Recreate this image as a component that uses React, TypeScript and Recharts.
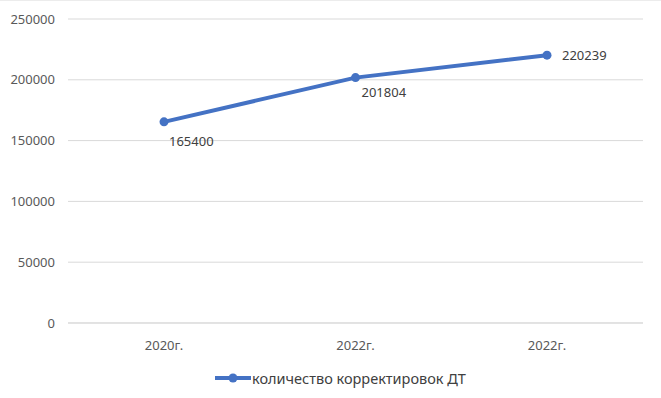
import { LineChart, Line, XAxis, YAxis, CartesianGrid, Legend } from 'recharts';

const categories = ['2020г.', '2022г.', '2022г.'];
const corrections = [165400, 201804, 220239];
const yTicks = [0, 50000, 100000, 150000, 200000, 250000];
const seriesName = 'количество корректировок ДТ';

const data = categories.map((label, i) => ({ i, label, value: corrections[i] }));

const FONT = '"Noto Sans", sans-serif';
const BLUE = '#4472C4';

// label offsets per point, like the Excel original
const labelDx = [5, 6, 15];
const labelDy = [24, 19, 5];

function PointLabel(props: any) {
  const { x, y, value, index } = props;
  return (
    <text x={x + labelDx[index]} y={y + labelDy[index]} fontSize={13} fill="#404040" fontFamily={FONT}>
      {value}
    </text>
  );
}

function LegendContent() {
  return (
    <div style={{ display: 'flex', alignItems: 'center', fontFamily: FONT, fontSize: 14.5, color: '#404040' }}>
      <svg width={37} height={12}>
        <line x1={0} y1={6} x2={36} y2={6} stroke={BLUE} strokeWidth={4} />
        <circle cx={18} cy={6} r={4.5} fill={BLUE} />
      </svg>
      <span>{seriesName}</span>
    </div>
  );
}

export default function App() {
  return (
    <div style={{ position: 'absolute', left: 0, top: 0, width: 661, height: 398, background: '#fff', borderTop: '1px solid #ececec', boxSizing: 'border-box' }}>
      <LineChart width={661} height={397} data={data} margin={{ top: 18, right: 18, bottom: 15, left: 0 }}>
        <CartesianGrid horizontal vertical={false} stroke="#d9d9d9" />
        <XAxis
          dataKey="i"
          type="category"
          tickFormatter={(i: number) => categories[i]}
          padding={{ left: 96, right: 96 }}
          axisLine={{ stroke: '#d9d9d9' }}
          tickLine={false}
          tickSize={0}
          tickMargin={18}
          height={40}
          tick={{ fontSize: 13, fill: '#595959', fontFamily: FONT }}
        />
        <YAxis
          domain={[0, 250000]}
          ticks={yTicks}
          width={68}
          axisLine={false}
          tickLine={false}
          tickSize={0}
          tickMargin={13}
          tick={{ fontSize: 13, fill: '#595959', fontFamily: FONT }}
        />
        <Legend content={<LegendContent />} wrapperStyle={{ left: 215, top: 367, width: 'auto' }} />
        <Line
          type="linear"
          dataKey="value"
          name={seriesName}
          stroke={BLUE}
          strokeWidth={4}
          dot={{ r: 4.5, fill: BLUE, stroke: BLUE, strokeWidth: 0 }}
          label={<PointLabel />}
          isAnimationActive={false}
        />
      </LineChart>
    </div>
  );
}
